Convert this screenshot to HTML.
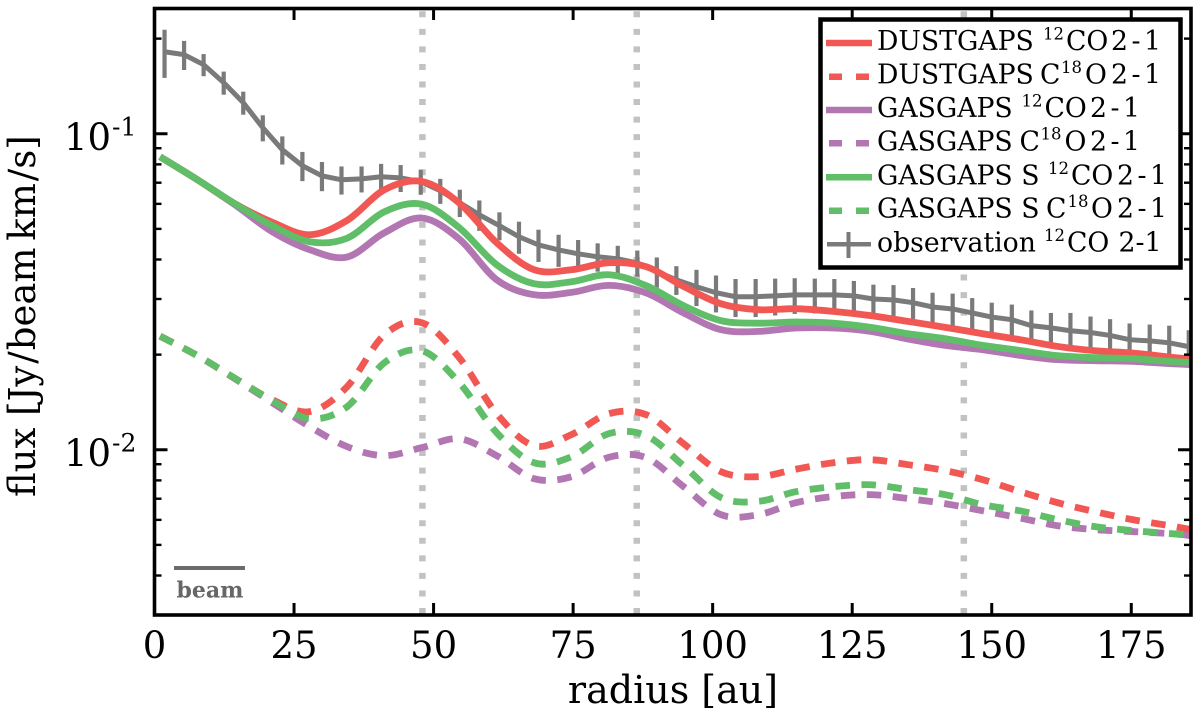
<!DOCTYPE html>
<html lang="en">
<head>
<meta charset="utf-8">
<title>Radial flux profile</title>
<style>
html,body{margin:0;padding:0;background:#fff;}
svg{display:block;font-family:"DejaVu Serif","Liberation Serif",serif;}
</style>
</head>
<body>
<svg id="chart" xmlns="http://www.w3.org/2000/svg" width="1200" height="723" viewBox="0 0 1200 723">
  <defs><clipPath id="plot-clip"><rect x="154.5" y="8" width="1036.5" height="607"/></clipPath></defs>
  <rect x="0" y="0" width="1200" height="723" fill="#fff"/>
  <g id="gaps"></g>
  <g id="series" clip-path="url(#plot-clip)"></g>
  <g id="ticks"></g>
  <rect x="154.5" y="8.5" width="1036.5" height="606.5" fill="none" stroke="#000" stroke-width="3.6"/>
  <g id="xlabels" font-size="37" text-anchor="middle" fill="#000"></g>
  <g id="ylabels" fill="#000"></g>
  <text x="673" y="703" font-size="38" text-anchor="middle">radius [au]</text>
  <text transform="translate(35,497) rotate(-90)" font-size="37">flux [Jy<tspan dx="2">/</tspan><tspan dx="1">beam</tspan><tspan dx="-5"> km</tspan><tspan dx="2">/</tspan><tspan dx="0">s]</tspan></text>
  <line x1="174" x2="245" y1="568" y2="568" stroke="#6b6b6b" stroke-width="4"/>
  <text x="176.5" y="597.5" font-size="22" font-weight="bold" fill="#666">beam</text>

  <g>
    <rect x="820.5" y="19.5" width="360" height="248" fill="#fff" stroke="#000" stroke-width="4.5"/>
    <g>
      <line x1="826" x2="872" y1="43" y2="43" stroke="#F15854" stroke-width="6.5"/>
      <text y="50" font-size="26.7"><tspan x="877">DUSTGAPS</tspan><tspan x="1043" y="39.5" font-size="16.5">12</tspan><tspan x="1066" y="50">CO</tspan><tspan x="1111" word-spacing="-5">2 - 1</tspan></text>
    </g>
    <g>
      <line x1="829" x2="869" y1="76.7" y2="76.7" stroke="#F15854" stroke-width="6.5" stroke-dasharray="13 14"/>
      <text y="83.7" font-size="26.7"><tspan x="877">DUSTGAPS</tspan><tspan x="1040">C</tspan><tspan x="1061" y="73" font-size="16.5">18</tspan><tspan x="1085" y="83.7">O</tspan><tspan x="1111" word-spacing="-5">2 - 1</tspan></text>
    </g>
    <g>
      <line x1="826" x2="872" y1="110" y2="110" stroke="#B276B2" stroke-width="6.5"/>
      <text y="117" font-size="26.7"><tspan x="877">GASGAPS</tspan><tspan x="1021.5" y="106.5" font-size="16.5">12</tspan><tspan x="1044.5" y="117">CO</tspan><tspan x="1090" word-spacing="-5">2 - 1</tspan></text>
    </g>
    <g>
      <line x1="829" x2="869" y1="143.3" y2="143.3" stroke="#B276B2" stroke-width="6.5" stroke-dasharray="13 14"/>
      <text y="150.3" font-size="26.7"><tspan x="877">GASGAPS</tspan><tspan x="1019.5">C</tspan><tspan x="1040.5" y="139.6" font-size="16.5">18</tspan><tspan x="1064.5" y="150.3">O</tspan><tspan x="1090" word-spacing="-5">2 - 1</tspan></text>
    </g>
    <g>
      <line x1="826" x2="872" y1="177.3" y2="177.3" stroke="#60BD68" stroke-width="6.5"/>
      <text y="184.3" font-size="26.7"><tspan x="877">GASGAPS S</tspan><tspan x="1048" y="173.8" font-size="16.5">12</tspan><tspan x="1071" y="184.3">CO</tspan><tspan x="1117" word-spacing="-5">2 - 1</tspan></text>
    </g>
    <g>
      <line x1="829" x2="869" y1="210.7" y2="210.7" stroke="#60BD68" stroke-width="6.5" stroke-dasharray="13 14"/>
      <text y="217.7" font-size="26.7"><tspan x="877">GASGAPS S</tspan><tspan x="1046">C</tspan><tspan x="1067.5" y="207" font-size="16.5">18</tspan><tspan x="1091" y="217.7">O</tspan><tspan x="1117" word-spacing="-5">2 - 1</tspan></text>
    </g>
    <g>
      <line x1="827" x2="871" y1="244.3" y2="244.3" stroke="#7a7a7a" stroke-width="4.5"/>
      <line x1="848.5" x2="848.5" y1="232" y2="258" stroke="#7a7a7a" stroke-width="4"/>
      <text y="251.3" font-size="26.7"><tspan x="877">observation</tspan><tspan x="1044" y="240.8" font-size="16.5">12</tspan><tspan x="1067" y="251.3">CO</tspan><tspan x="1118.5">2-1</tspan></text>
    </g>
  </g>
</svg>
<script>
// ---- chart data ----
const xTicks = [0, 25, 50, 75, 100, 125, 150, 175];
const yMajorTicks = [0.1, 0.01];
const yMajorExponents = ["-1", "-2"];
const yMinorTicks = [0.2, 0.09, 0.08, 0.07, 0.06, 0.05, 0.04, 0.03, 0.02, 0.009, 0.008, 0.007, 0.006, 0.005, 0.004];
const gapRadii = [48, 86.4, 145];

const modelRadius = [1.0, 7.7, 14.4, 21.1, 27.8, 34.5, 41.2, 47.9, 54.6, 61.3, 68, 74.7, 81.4, 88.1, 94.8, 101.5, 108.2, 114.9, 121.6, 128.3, 135, 141.7, 148.4, 155.1, 161.8, 168.5, 175.2, 181.9, 185.7];

const dustgaps12co = [.08458, .07153, .06006, .05248, .04791, .05318, .06651, .07065, .06037, .04520, .03713, .03713, .03908, .03796, .03287, .02898, .02775, .02795, .02741, .02657, .02548, .02440, .02329, .02230, .02123, .02058, .02024, .01964, .01937];
const gasgaps12co = [.08458, .07153, .05962, .04897, .04296, .04073, .04862, .05412, .04644, .03452, .03095, .03147, .03312, .03134, .02709, .02398, .02369, .02428, .02428, .02369, .02241, .02139, .02073, .01989, .01928, .01914, .01904, .01873, .01859];
const gasgapsS12co = [.08458, .07153, .06006, .05117, .04553, .04671, .05666, .05984, .05043, .03851, .03353, .03402, .03580, .03305, .02857, .02561, .02515, .02537, .02515, .02440, .02329, .02246, .02139, .02062, .01985, .01956, .01942, .01904, .01890];
const dustgapsC18o = [.02288, .01985, .01684, .01440, .01320, .01583, .02312, .02524, .01956, .01301, .01030, .01117, .01301, .01291, .01045, .00852, .00822, .00868, .00910, .00930, .00897, .00859, .00804, .00737, .00680, .00637, .00601, .00575, .00559];
const gasgapsC18o = [.02288, .01985, .01678, .01409, .01184, .01023, .00958, .01016, .01084, .00958, .00810, .00822, .00947, .00944, .00764, .00623, .00623, .00680, .00711, .00721, .00701, .00675, .00641, .00608, .00575, .00559, .00551, .00543, .00535];
const gasgapsSC18o = [.02288, .01985, .01684, .01430, .01254, .01368, .01886, .02058, .01630, .01133, .00910, .00950, .01125, .01108, .00890, .00706, .00687, .00737, .00764, .00775, .00748, .00721, .00670, .00641, .00601, .00571, .00555, .00543, .00537];

const obsRadius = [1.8, 5.3, 8.8, 12.4, 15.9, 19.4, 22.9, 26.5, 30, 33.5, 37.1, 40.6, 44.1, 47.7, 51.2, 54.7, 58.2, 61.8, 65.3, 68.8, 72.4, 75.9, 79.4, 83, 86.5, 90, 93.5, 97.1, 100.6, 104.1, 107.7, 111.2, 114.7, 118.3, 121.8, 125.3, 128.8, 132.4, 135.9, 139.4, 143, 146.5, 150, 153.6, 157.1, 160.6, 164.1, 167.7, 171.2, 174.7, 178.3, 181.8, 185.3];
const obsFlux = [.1818, .1779, .1654, .1451, .1254, .1045, .0890, .0792, .0736, .0715, .0720, .0731, .0725, .0705, .0660, .0605, .0554, .0512, .0472, .0445, .0429, .0417, .0408, .0402, .0390, .0366, .0345, .0328, .0314, .0305, .0305, .0307, .0309, .0309, .0309, .0307, .0300, .0298, .0292, .0283, .0279, .0271, .0263, .0258, .0247, .0243, .0238, .0235, .0230, .0223, .0221, .0218, .0212];
const obsError = [.0315, .0188, .0133, .0122, .0105, .0099, .0091, .0084, .0078, .0073, .0068, .0072, .0071, .0064, .0060, .0060, .0061, .0052, .0055, .0052, .0050, .0044, .0042, .0040, .0037, .0040, .0036, .0043, .0042, .0042, .0042, .0041, .0040, .0039, .0038, .0035, .0033, .0034, .0033, .0031, .0033, .0031, .0029, .0030, .0029, .0028, .0033, .0029, .0029, .0028, .0028, .0029, .0027];

// ---- axis functions ----
const SVGNS = 'http://www.w3.org/2000/svg';
const X0 = 154.5, X1 = 1191, Y0 = 8, Y1 = 615;
const XMIN = 0, XMAX = 185.7, YMIN = 0.003, YMAX = 0.25;
function xScale(r) { return X0 + (r - XMIN) / (XMAX - XMIN) * (X1 - X0); }
function yScale(f) { return Y0 + (Math.log10(YMAX) - Math.log10(f)) / (Math.log10(YMAX) - Math.log10(YMIN)) * (Y1 - Y0); }
function make(tag, attrs, parent) {
  const el = document.createElementNS(SVGNS, tag);
  for (const k in attrs) el.setAttribute(k, attrs[k]);
  parent.appendChild(el);
  return el;
}
function pathFrom(xs, ys) {
  return xs.map((x, i) => (i ? 'L' : 'M') + xScale(x).toFixed(2) + ' ' + yScale(ys[i]).toFixed(2)).join(' ');
}
// Catmull-Rom spline through the data points, in pixel space
function smoothPathFrom(xs, ys) {
  const p = xs.map((x, i) => [xScale(x), yScale(ys[i])]);
  let d = 'M' + p[0][0].toFixed(2) + ' ' + p[0][1].toFixed(2);
  for (let i = 0; i < p.length - 1; i++) {
    const a = p[Math.max(i - 1, 0)], b = p[i], c = p[i + 1], e = p[Math.min(i + 2, p.length - 1)];
    const c1x = b[0] + (c[0] - a[0]) / 6, c1y = b[1] + (c[1] - a[1]) / 6;
    const c2x = c[0] - (e[0] - b[0]) / 6, c2y = c[1] - (e[1] - b[1]) / 6;
    d += ' C' + c1x.toFixed(2) + ' ' + c1y.toFixed(2) + ' ' + c2x.toFixed(2) + ' ' + c2y.toFixed(2) + ' ' + c[0].toFixed(2) + ' ' + c[1].toFixed(2);
  }
  return d;
}

const gapsG = document.getElementById('gaps');
const seriesG = document.getElementById('series');
const ticksG = document.getElementById('ticks');
const xLabelsG = document.getElementById('xlabels');
const yLabelsG = document.getElementById('ylabels');

// gap markers
gapRadii.forEach(function (r) {
  const el = make('line', {x1: xScale(r), x2: xScale(r), y1: Y0, y2: Y1, stroke: '#c2c2c2', 'stroke-width': 6.5, 'stroke-dasharray': '6 11.55', 'stroke-dashoffset': -3.3}, gapsG);
  
  
});

// observation line and error bars
obsRadius.forEach(function (r, i) {
  const el = make('line', {x1: xScale(r), x2: xScale(r), y1: yScale(obsFlux[i] + obsError[i]), y2: yScale(obsFlux[i] - obsError[i]), stroke: '#7a7a7a', 'stroke-width': 4.2}, seriesG);
  
  
});
const obsLine = make('path', {d: pathFrom(obsRadius, obsFlux), fill: 'none', stroke: '#7a7a7a', 'stroke-width': 5}, seriesG);



// model curves
const RED = '#F15854', PURPLE = '#B276B2', GREEN = '#60BD68';
function drawModel(values, color, dashed, name) {
  const attrs = {d: smoothPathFrom(modelRadius, values), fill: 'none', stroke: color, 'stroke-width': 6.8, 'stroke-linejoin': 'round'};
  if (dashed) attrs['stroke-dasharray'] = '14.5 11.5';
  const el = make('path', attrs, seriesG);
  
  
}
drawModel(gasgaps12co, PURPLE, false, 'gasgaps-12co-line');
drawModel(dustgaps12co, RED, false, 'dustgaps-12co-line');
drawModel(gasgapsS12co, GREEN, false, 'gasgaps-s-12co-line');
drawModel(gasgapsC18o, PURPLE, true, 'gasgaps-c18o-line');
drawModel(dustgapsC18o, RED, true, 'dustgaps-c18o-line');
drawModel(gasgapsSC18o, GREEN, true, 'gasgaps-s-c18o-line');

// x ticks and labels
xTicks.forEach(function (t) {
  const x = xScale(t);
  if (t !== 0) {
    const b = make('line', {x1: x, x2: x, y1: Y1, y2: Y1 - 12, stroke: '#000', 'stroke-width': 3}, ticksG);
    
    
    const u = make('line', {x1: x, x2: x, y1: Y0, y2: Y0 + 12, stroke: '#000', 'stroke-width': 3}, ticksG);
    
    
  }
  const lab = make('text', {x: x, y: 658}, xLabelsG);
  lab.textContent = String(t);
  
  
});

// y ticks and labels
yMajorTicks.forEach(function (t, i) {
  const y = yScale(t);
  const l = make('line', {x1: X0, x2: X0 + 13, y1: y, y2: y, stroke: '#000', 'stroke-width': 3}, ticksG);
  
  
  const r = make('line', {x1: X1, x2: X1 - 13, y1: y, y2: y, stroke: '#000', 'stroke-width': 3}, ticksG);
  
  
  const lab = make('text', {x: 64, y: y + 16, 'font-size': 37}, yLabelsG);
  lab.textContent = '10';
  
  
  const sup = make('text', {x: 112, y: y + 1.5, 'font-size': 25}, yLabelsG);
  sup.textContent = yMajorExponents[i];
  
  
});
yMinorTicks.forEach(function (t) {
  const y = yScale(t);
  const l = make('line', {x1: X0, x2: X0 + 7, y1: y, y2: y, stroke: '#000', 'stroke-width': 2.4}, ticksG);
  
  
  const r = make('line', {x1: X1, x2: X1 - 7, y1: y, y2: y, stroke: '#000', 'stroke-width': 2.4}, ticksG);
  
  
});
</script>
</body>
</html>
